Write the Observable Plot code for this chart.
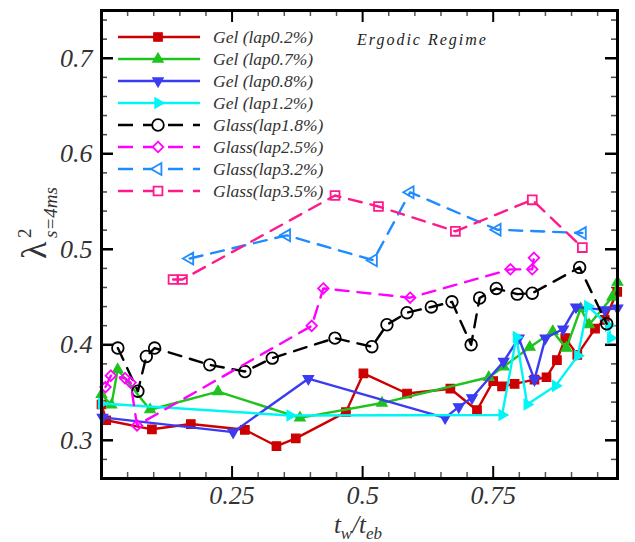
<!DOCTYPE html>
<html>
<head>
<meta charset="utf-8">
<script src="https://cdn.jsdelivr.net/npm/d3@7"></script>
<script src="https://cdn.jsdelivr.net/npm/@observablehq/plot@0.6"></script>
<style>
  html, body { margin: 0; padding: 0; background: #fff; }
  #chart { width: 635px; height: 542px; }
</style>
</head>
<body>
<div id="chart"></div>
<script>
// ---- data (x = t_w/t_eb, y = lambda^2) ----
const gel02 = [[0.0,0.3375],[0.009,0.321],[0.0965,0.3115],[0.171,0.317],[0.2745,0.311],[0.335,0.294],[0.372,0.302],[0.468,0.3295],[0.5015,0.370],[0.585,0.349],[0.668,0.354],[0.719,0.3315],[0.750,0.362],[0.767,0.3565],[0.791,0.359],[0.829,0.3635],[0.852,0.366],[0.872,0.384],[0.888,0.407],[0.911,0.3895],[0.945,0.417],[0.9635,0.426],[0.9875,0.4555]];
const gel07 = [[0.0,0.348],[0.019,0.337],[0.031,0.374],[0.093,0.332],[0.223,0.351],[0.380,0.3235],[0.537,0.339],[0.7415,0.366],[0.770,0.377],[0.820,0.3975],[0.864,0.414],[0.890,0.3965],[0.9175,0.438],[0.9335,0.421],[0.978,0.450],[0.988,0.4655]];
const gel08 = [[0.002,0.324],[0.252,0.3085],[0.396,0.3645],[0.658,0.3235],[0.684,0.335],[0.7095,0.3445],[0.770,0.3825],[0.799,0.407],[0.829,0.3635],[0.850,0.407],[0.884,0.4165],[0.9085,0.4395],[0.9635,0.4365],[0.988,0.4385]];
const gel12 = [[0.0,0.3385],[0.361,0.326],[0.767,0.3265],[0.7945,0.408],[0.815,0.3375],[0.8695,0.357],[0.912,0.3885],[0.931,0.4405],[0.971,0.420],[0.975,0.407]];
const glass18 = [[0.0313,0.3966],[0.0697,0.3514],[0.0858,0.3878],[0.1017,0.3966],[0.2073,0.379],[0.2745,0.372],[0.327,0.386],[0.447,0.407],[0.5177,0.398],[0.5465,0.421],[0.585,0.4336],[0.6315,0.4396],[0.671,0.445],[0.7077,0.400],[0.724,0.449],[0.756,0.459],[0.796,0.453],[0.8248,0.454],[0.9155,0.481],[0.9674,0.422]];
const glass25 = [[0.0077,0.3557],[0.0179,0.3677],[0.045,0.365],[0.0557,0.3604],[0.068,0.3156],[0.4025,0.4198],[0.4248,0.459],[0.591,0.4493],[0.783,0.479],[0.8248,0.479],[0.828,0.491]];
const glass32 = [[0.169,0.4903],[0.3545,0.5146],[0.5207,0.4885],[0.591,0.5597],[0.7576,0.5205],[0.9207,0.517]];
const glass35 = [[0.137,0.4684],[0.155,0.4684],[0.4472,0.5563],[0.5303,0.5448],[0.6776,0.5188],[0.8248,0.5518],[0.9207,0.5018]];

const seriesNames = ["Gel (lap0.2%)","Gel (lap0.7%)","Gel (lap0.8%)","Gel (lap1.2%)","Glass(lap1.8%)","Glass(lap2.5%)","Glass(lap3.2%)","Glass(lap3.5%)"];
const seriesData = [gel02, gel07, gel08, gel12, glass18, glass25, glass32, glass35];
const seriesColors = ["#cc0000","#1ec31e","#3b3bf2","#00f5f5","#000000","#ff00ff","#1e8cff","#ff1a8c"];

const xTickLabels = ["0.25","0.5","0.75"];
const xMajor = [0.25, 0.5, 0.75];
const yTickLabels = ["0.3","0.4","0.5","0.6","0.7"];
const yMajor = [0.3, 0.4, 0.5, 0.6, 0.7];
const xDomain = [0, 0.988];
const yDomain = [0.26, 0.75];

// ---- custom symbols ----
function tri(angle) {
  return {
    draw(ctx, size) {
      const R = Math.sqrt(size / 1.299);
      for (let i = 0; i < 3; i++) {
        const a = angle + i * 2 * Math.PI / 3;
        const px = R * Math.cos(a), py = R * Math.sin(a);
        if (i === 0) ctx.moveTo(px, py); else ctx.lineTo(px, py);
      }
      ctx.closePath();
    }
  };
}
const triUp = tri(-Math.PI / 2), triDown = tri(Math.PI / 2), triRight = tri(0), triLeft = tri(Math.PI);
const diamond = {
  draw(ctx, size) {
    const r = Math.sqrt(size / 2);
    ctx.moveTo(0, -r); ctx.lineTo(r, 0); ctx.lineTo(0, r); ctx.lineTo(-r, 0); ctx.closePath();
  }
};
const seriesSymbols = [d3.symbolSquare, triUp, triDown, triRight, d3.symbolCircle, diamond, triLeft, d3.symbolSquare];
const seriesFilled = [true, true, true, true, false, false, false, false];
const seriesR = [4.8, 3.9, 3.9, 3.9, 5.8, 4.2, 4.4, 5.0];
const dash = "13,9";

const W = 635, H = 542, mL = 101, mR = 18, mT = 10, mB = 64;
const innerW = W - mL - mR, innerH = H - mT - mB;
const xMinor = d3.range(0.05, 0.98, 0.05).filter(v => !xMajor.some(m => Math.abs(m - v) < 1e-6));
const yMinor = d3.range(0.28, 0.745, 0.02).filter(v => !yMajor.some(m => Math.abs(m - v) < 1e-6));

const marks = [];
// inward frame ticks
const majL = 12, minL = 6;
marks.push(Plot.ruleX(xMajor, {x: d => d, insetTop: innerH - majL, stroke: "#000", strokeWidth: 2}));
marks.push(Plot.ruleX(xMinor, {x: d => d, insetTop: innerH - minL, stroke: "#555", strokeWidth: 1.5}));
marks.push(Plot.ruleX(xMajor, {x: d => d, insetBottom: innerH - majL, stroke: "#000", strokeWidth: 2}));
marks.push(Plot.ruleX(xMinor, {x: d => d, insetBottom: innerH - minL, stroke: "#555", strokeWidth: 1.5}));
marks.push(Plot.ruleY(yMajor, {y: d => d, insetRight: innerW - majL, stroke: "#000", strokeWidth: 2.5}));
marks.push(Plot.ruleY(yMinor, {y: d => d, insetRight: innerW - minL, stroke: "#444", strokeWidth: 1.5}));
marks.push(Plot.ruleY(yMajor, {y: d => d, insetLeft: innerW - majL, stroke: "#000", strokeWidth: 2.5}));
marks.push(Plot.ruleY(yMinor, {y: d => d, insetLeft: innerW - minL, stroke: "#444", strokeWidth: 1.5}));

seriesData.forEach((data, i) => {
  const glass = !seriesFilled[i];
  marks.push(Plot.line(data, {x: d => d[0], y: d => d[1], stroke: seriesColors[i], strokeWidth: 2.4,
    strokeDasharray: glass ? dash : null, curve: "linear"}));
  marks.push(Plot.dot(data, {x: d => d[0], y: d => d[1], r: seriesR[i], symbol: () => seriesSymbols[i],
    fill: seriesFilled[i] ? seriesColors[i] : "none", stroke: seriesColors[i], strokeWidth: glass ? 1.8 : 1.2}));
});

marks.push(Plot.axisX(xMajor, {tickSize: 0, tickPadding: 7, tickFormat: (d, i) => xTickLabels[i], label: null,
  fill: "#333", fontSize: 26}));
marks.push(Plot.axisY(yMajor, {tickSize: 0, tickPadding: 9, tickFormat: (d, i) => yTickLabels[i], label: null,
  fill: "#333", fontSize: 26}));
marks.push(Plot.frame({stroke: "#000", strokeWidth: 3}));

const chart = Plot.plot({
  width: W, height: H,
  marginLeft: mL, marginRight: mR, marginTop: mT, marginBottom: mB,
  x: {domain: xDomain},
  y: {domain: yDomain},
  symbol: {type: "identity"},
  style: {fontFamily: "'Liberation Serif', 'DejaVu Serif', serif", fontStyle: "italic", fontSize: "26px", background: "#fff", overflow: "visible"},
  marks
});
document.getElementById("chart").appendChild(chart);

// ---- annotations: legend, labels ----
const svg = d3.select(chart);
const font = "'Liberation Serif', 'DejaVu Serif', serif";
const lg = svg.append("g").attr("text-anchor", "start");
seriesNames.forEach((name, i) => {
  const y = 37 + i * 22;
  const glass = !seriesFilled[i];
  lg.append("line").attr("x1", 118).attr("x2", 200).attr("y1", y).attr("y2", y)
    .attr("stroke", seriesColors[i]).attr("stroke-width", 2.4)
    .attr("stroke-dasharray", glass ? "15,10" : null);
  lg.append("path").attr("transform", `translate(158,${y})`)
    .attr("d", d3.symbol(seriesSymbols[i], Math.PI * seriesR[i] ** 2)())
    .attr("fill", glass ? "#fff" : seriesColors[i]).attr("stroke", seriesColors[i]).attr("stroke-width", glass ? 1.8 : 1.2);
  lg.append("text").attr("x", 213).attr("y", y).attr("dy", "0.35em").attr("text-anchor", "start")
    .attr("font-family", font).attr("font-style", "italic").attr("font-size", 17.5).attr("fill", "#333")
    .text(name);
});
svg.append("text").attr("x", 357).attr("y", 45).attr("text-anchor", "start")
  .attr("font-family", font).attr("font-style", "italic").attr("font-size", 16).attr("letter-spacing", 2)
  .attr("fill", "#222")
  .text("Ergodic Regime");

// y label: λ^2_{s=4ms}
const yl = svg.append("g").attr("transform", "translate(46,259) rotate(-90)")
  .attr("font-family", font).attr("fill", "#333").attr("text-anchor", "start");
yl.append("text").attr("x", 0).attr("y", 0).attr("font-size", 36).attr("font-style", "normal").text("λ");
yl.append("text").attr("x", 21).attr("y", -15).attr("font-size", 19).attr("font-style", "normal").text("2");
yl.append("text").attr("x", 21).attr("y", 11).attr("font-size", 19).attr("font-style", "italic").text("s=4ms");

// x label: t_w/t_eb
const xl = svg.append("text").attr("x", 358).attr("y", 533).attr("text-anchor", "middle")
  .attr("font-family", font).attr("font-style", "italic").attr("font-size", 25).attr("fill", "#333");
xl.append("tspan").text("t");
xl.append("tspan").attr("font-size", 17).attr("dy", 6).text("w");
xl.append("tspan").attr("dy", -6).text("/t");
xl.append("tspan").attr("font-size", 17).attr("dy", 6).text("eb");
</script>
</body>
</html>
